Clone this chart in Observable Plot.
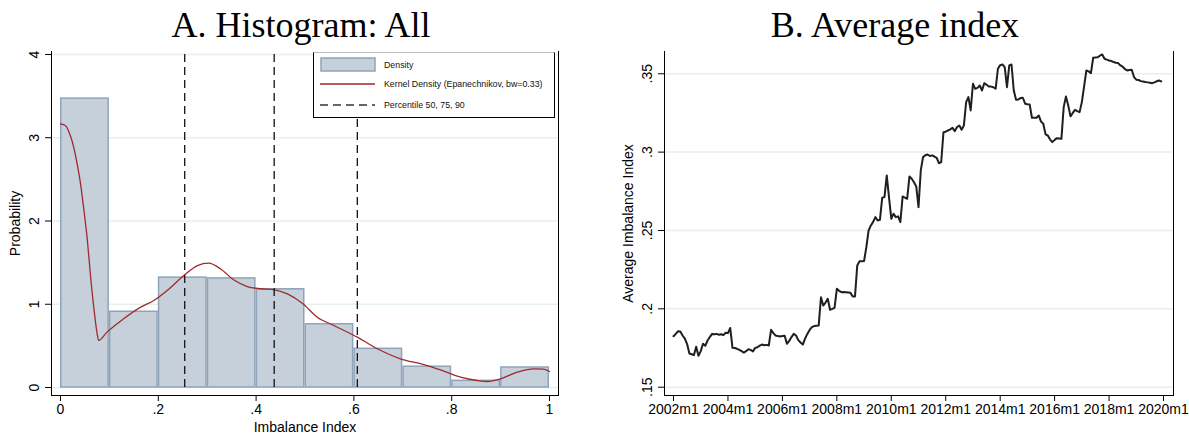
<!DOCTYPE html>
<html>
<head>
<meta charset="utf-8">
<script src="https://cdn.jsdelivr.net/npm/d3@7"></script>
<script src="https://cdn.jsdelivr.net/npm/@observablehq/plot@0.6"></script>
<style>
  body { margin: 0; background: #fff; }
  #wrap { position: relative; width: 1189px; height: 448px; overflow: hidden; font-family: "Liberation Sans", Arial, sans-serif; background: #fff; }
  .panel { position: absolute; top: 0; height: 448px; }
  .title { position: absolute; top: 6px; left: 0; width: 602px; text-align: center; z-index: 2;
           font-family: "Liberation Serif", "Times New Roman", serif; font-size: 36px; line-height: 38px; color: #000; }
  .chart { position: absolute; top: 40px; left: 0; z-index: 1; }
  .legend { position: absolute; left: 313px; top: 52px; width: 242px; height: 66px; box-sizing: border-box; z-index: 3;
            border: 1px solid #000; border-top-color: #bbb; background: #fff; font-size: 8.8px; color: #111; }
  .legend .item { position: absolute; left: 70px; line-height: 12px; white-space: nowrap; }
  .legend svg { position: absolute; left: 6px; }
</style>
</head>
<body>
<div id="wrap">
  <div class="panel" id="panelA" style="left:0;width:594px;">
    <div class="chart" id="chartA"></div>
    <div class="title">A. Histogram: All</div>
  </div>
  <div class="panel" id="panelB" style="left:594px;width:595px;">
    <div class="chart" id="chartB"></div>
    <div class="title">B. Average index</div>
  </div>
</div>
<script>
// ---------- Panel A data ----------
const binStart = [0, 0.1, 0.2, 0.3, 0.4, 0.5, 0.6, 0.7, 0.8, 0.9];
const binDensity = [3.47, 0.91, 1.32, 1.31, 1.18, 0.76, 0.465, 0.25, 0.08, 0.24];
const binWidth = 0.1;
const kdeX = [0, 0.010, 0.020, 0.027, 0.034, 0.041, 0.048, 0.055, 0.061, 0.068, 0.075, 0.078, 0.095, 0.129, 0.164, 0.191, 0.218, 0.254, 0.280, 0.303, 0.327, 0.354, 0.382, 0.409, 0.438, 0.464, 0.495, 0.525, 0.559, 0.607, 0.648, 0.695, 0.743, 0.777, 0.818, 0.852, 0.873, 0.900, 0.934, 0.968, 0.988, 1.0];
const kdeY = [3.167, 3.147, 3.027, 2.887, 2.687, 2.447, 2.126, 1.766, 1.366, 0.965, 0.645, 0.565, 0.665, 0.825, 0.965, 1.045, 1.165, 1.354, 1.465, 1.493, 1.426, 1.294, 1.213, 1.186, 1.174, 1.125, 1.01, 0.845, 0.745, 0.605, 0.465, 0.345, 0.276, 0.212, 0.124, 0.084, 0.072, 0.104, 0.184, 0.225, 0.22, 0.192];
const percentiles = [0.254, 0.437, 0.607];
const xTicksA = [0, 0.2, 0.4, 0.6, 0.8, 1];
const yTicksA = [0, 1, 2, 3, 4];

// ---------- Panel B data ----------
const startYear = 2002; // first month: 2002m1
const avgIndex = [
  0.1825, 0.184, 0.1857, 0.1855, 0.183, 0.181, 0.1775, 0.1715, 0.171, 0.1705, 0.1758, 0.170,
  0.173, 0.1777, 0.1764, 0.1798, 0.182, 0.184, 0.1838, 0.184, 0.1835, 0.1838, 0.1832, 0.1848,
  0.1845, 0.1878, 0.1751, 0.175, 0.1745, 0.1738, 0.173, 0.1721, 0.173, 0.1742, 0.1738, 0.1728,
  0.1751, 0.1755, 0.1765, 0.1772, 0.1768, 0.177, 0.1766, 0.1866, 0.1845, 0.183, 0.1826, 0.1824,
  0.1826, 0.1828, 0.1777, 0.1795, 0.182, 0.184, 0.183, 0.180, 0.1785, 0.1772, 0.181, 0.184,
  0.1865, 0.1883, 0.189, 0.1892, 0.1894, 0.2074, 0.2021, 0.204, 0.2064, 0.1994, 0.200, 0.2007,
  0.2128, 0.2115, 0.2106, 0.2108, 0.2106, 0.2104, 0.2102, 0.2079, 0.2079, 0.2277, 0.2304, 0.2304,
  0.2305, 0.2393, 0.25, 0.2532, 0.2555, 0.2585, 0.2564, 0.2568, 0.2709, 0.2713, 0.2851, 0.271,
  0.2575, 0.2607, 0.2585, 0.259, 0.2553, 0.2717, 0.271, 0.2702, 0.2845, 0.283, 0.2808, 0.2781,
  0.2649, 0.2883, 0.2968, 0.298, 0.2985, 0.2975, 0.2979, 0.2972, 0.2964, 0.2929, 0.2936, 0.3127,
  0.313, 0.3138, 0.3145, 0.3155, 0.3134, 0.316, 0.317, 0.3143, 0.317, 0.3319, 0.3351, 0.3266,
  0.3436, 0.3404, 0.341, 0.3425, 0.3393, 0.344, 0.343, 0.3419, 0.3418, 0.3414, 0.3404, 0.3532,
  0.3555, 0.3559, 0.3542, 0.3414, 0.3553, 0.3559, 0.3393, 0.3334, 0.3336, 0.3345, 0.3347, 0.3309,
  0.3305, 0.3304, 0.3219, 0.322, 0.3219, 0.3234, 0.3195, 0.3181, 0.3113, 0.3106, 0.308, 0.3064,
  0.3078, 0.3089, 0.3087, 0.3085, 0.3287, 0.3355, 0.3298, 0.3228, 0.325, 0.327, 0.3262, 0.3255,
  0.3319, 0.342, 0.3521, 0.3515, 0.3504, 0.3602, 0.3604, 0.3606, 0.3615, 0.3623, 0.3596, 0.359,
  0.3585, 0.3581, 0.3575, 0.357, 0.3568, 0.3553, 0.3545, 0.353, 0.3521, 0.3524, 0.3526, 0.3479,
  0.3462, 0.346, 0.3453, 0.345, 0.3447, 0.3445, 0.3443, 0.344, 0.3445, 0.3452, 0.3457, 0.3451
];
const xTicksB = [2002, 2004, 2006, 2008, 2010, 2012, 2014, 2016, 2018, 2020];
const yTicksB = [0.15, 0.2, 0.25, 0.3, 0.35];

// ---------- styles ----------
const gridColor = "#e6eff0";
const barFill = "#c6d0db";
const barStroke = "#8fa4b8";
const kdeColor = "#9e2a2f";
const fontStyle = { fontFamily: "'Liberation Sans', Arial, sans-serif", fontSize: "14px", color: "#000", background: "transparent", overflow: "visible" };
const stataFmt = d => d === 0 ? "0" : (Math.abs(d - Math.round(d)) < 1e-9 ? String(Math.round(d)) : String(+d.toFixed(3)).replace(/^0\./, "."));

// ---------- Panel A ----------
const bins = binStart.map((x0, i) => ({ x0, x1: x0 + binWidth, d: binDensity[i] }));
const kde = kdeX.map((x, i) => ({ x, y: kdeY[i] }));

const chartA = Plot.plot({
  width: 594, height: 408,
  marginLeft: 51, marginRight: 36, marginTop: 11, marginBottom: 53,
  style: fontStyle,
  x: { domain: [-0.0184, 1.0184] },
  y: { domain: [-0.096, 4.036] },
  marks: [
    Plot.gridY(yTicksA, { stroke: gridColor, strokeOpacity: 1, strokeWidth: 1.5 }),
    Plot.rectY(bins, { x1: "x0", x2: "x1", y: "d", fill: barFill, stroke: barStroke, strokeWidth: 1.5, insetLeft: 0.75, insetRight: 0.75 }),
    Plot.line(kde, { x: "x", y: "y", stroke: kdeColor, strokeWidth: 1.3, curve: "monotone-x" }),
    Plot.ruleX(percentiles, { y1: yTicksA[0], y2: yTicksA[yTicksA.length - 1], stroke: "#111", strokeWidth: 1.3, strokeDasharray: "8,5" }),
    Plot.frame({ anchor: "left", stroke: "#000" }),
    Plot.frame({ anchor: "bottom", stroke: "#000" }),
    Plot.frame({ anchor: "right", stroke: "#000" }),
    Plot.axisY(yTicksA, { anchor: "left", tickSize: 6, tickPadding: 7, tickRotate: -90, tickFormat: stataFmt,
      label: "Probability", labelAnchor: "center", labelOffset: 41, labelArrow: "none" }),
    Plot.axisX(xTicksA, { anchor: "bottom", tickSize: 6, tickPadding: 3, tickFormat: stataFmt,
      label: "Imbalance Index", labelAnchor: "center", labelOffset: 36, labelArrow: "none" })
  ]
});
document.getElementById("chartA").appendChild(chartA);

// legend (overlay inside plot region)
const legend = document.createElement("div");
legend.className = "legend";
legend.innerHTML = `
  <svg width="58" height="16" style="top:4px"><rect x="1" y="1" width="54" height="13" fill="${barFill}" stroke="${barStroke}" stroke-width="1.5"/></svg>
  <div class="item" style="top:6px">Density</div>
  <svg width="58" height="6" style="top:28px"><line x1="0" x2="55" y1="3" y2="3" stroke="${kdeColor}" stroke-width="1.3"/></svg>
  <div class="item" style="top:25px">Kernel Density (Epanechnikov, bw=0.33)</div>
  <svg width="58" height="6" style="top:49px"><line x1="0" x2="55" y1="3" y2="3" stroke="#333" stroke-width="1.5" stroke-dasharray="8,5"/></svg>
  <div class="item" style="top:46px">Percentile 50, 75, 90</div>`;
document.getElementById("panelA").appendChild(legend);

// ---------- Panel B ----------
const series = avgIndex.map((v, i) => ({ t: startYear + i / 12, v }));
const chartB = Plot.plot({
  width: 595, height: 408,
  marginLeft: 70, marginRight: 16, marginTop: 11, marginBottom: 53,
  style: fontStyle,
  x: { domain: [2001.669, 2020.367] },
  y: { domain: [0.1447, 0.3642] },
  marks: [
    Plot.gridY(yTicksB, { stroke: gridColor, strokeOpacity: 1, strokeWidth: 1.5 }),
    Plot.lineY(series, { x: "t", y: "v", stroke: "#1f1f1f", strokeWidth: 2 }),
    Plot.frame({ anchor: "left", stroke: "#000" }),
    Plot.frame({ anchor: "bottom", stroke: "#000" }),
    Plot.frame({ anchor: "right", stroke: "#000" }),
    Plot.axisY(yTicksB, { anchor: "left", tickSize: 6, tickPadding: 7, tickRotate: -90, tickFormat: stataFmt,
      label: "Average Imbalance Index", labelAnchor: "center", labelOffset: 41, labelArrow: "none" }),
    Plot.axisX(xTicksB, { anchor: "bottom", tickSize: 6, tickPadding: 3, tickFormat: d => d + "m1", label: null })
  ]
});
document.getElementById("chartB").appendChild(chartB);
</script>
</body>
</html>
